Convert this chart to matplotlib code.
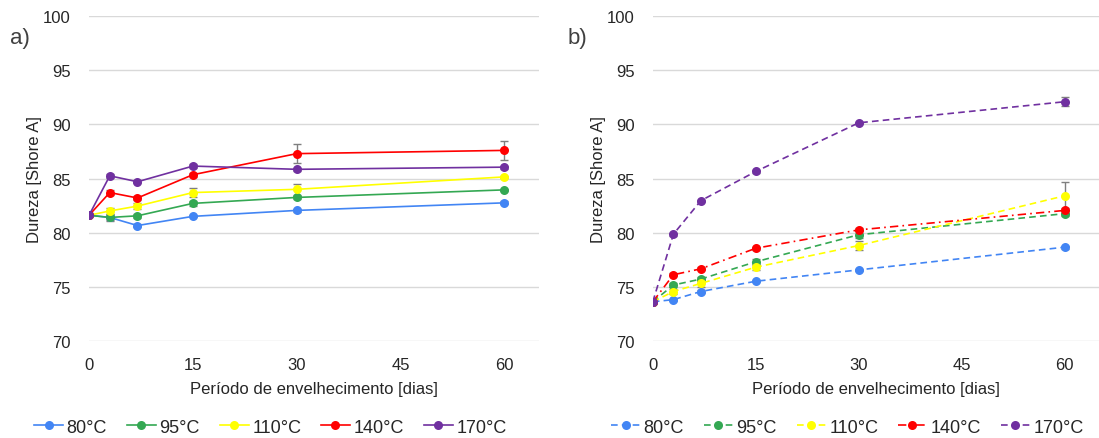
import matplotlib
matplotlib.use("Agg")
import matplotlib.pyplot as plt

plt.rcParams["font.family"] = ["Liberation Sans", "DejaVu Sans"]

dias = [0, 3, 7, 15, 30, 60]
temps = ["80°C", "95°C", "110°C", "140°C", "170°C"]
cores = ["#4285F4", "#34A853", "#FFFF00", "#FF0000", "#7030A0"]

# a) dureza
a_80 = [81.6, 81.4, 80.65, 81.5, 82.05, 82.75]
a_95 = [81.6, 81.4, 81.55, 82.7, 83.25, 83.95]
a_110 = [81.6, 82.0, 82.45, 83.7, 84.0, 85.15]
a_140 = [81.6, 83.7, 83.2, 85.35, 87.3, 87.6]
a_170 = [81.6, 85.25, 84.7, 86.15, 85.85, 86.05]
a_err_80 = [0.1, 0.2, 0.15, 0.1, 0.15, 0.15]
a_err_95 = [0.1, 0.3, 0.2, 0.2, 0.15, 0.1]
a_err_110 = [0.1, 0.3, 0.3, 0.4, 0.5, 0.1]
a_err_140 = [0.1, 0.2, 0.2, 0.2, 0.85, 0.85]
a_err_170 = [0.1, 0.2, 0.15, 0.15, 0.15, 0.15]

# b) dureza
b_80 = [73.6, 73.8, 74.55, 75.5, 76.55, 78.65]
b_95 = [73.6, 75.15, 75.7, 77.3, 79.8, 81.75]
b_110 = [73.6, 74.55, 75.3, 76.8, 78.8, 83.4]
b_140 = [73.6, 76.1, 76.65, 78.55, 80.25, 82.05]
b_170 = [73.6, 79.85, 82.95, 85.65, 90.15, 92.1]
b_err_80 = [0.1, 0.1, 0.1, 0.1, 0.1, 0.15]
b_err_95 = [0.1, 0.2, 0.2, 0.3, 0.3, 0.2]
b_err_110 = [0.1, 0.2, 0.3, 0.3, 0.4, 1.3]
b_err_140 = [0.1, 0.15, 0.15, 0.15, 0.15, 0.2]
b_err_170 = [0.1, 0.15, 0.1, 0.15, 0.1, 0.4]

serie_a = [a_80, a_95, a_110, a_140, a_170]
erro_a = [a_err_80, a_err_95, a_err_110, a_err_140, a_err_170]
serie_b = [b_80, b_95, b_110, b_140, b_170]
erro_b = [b_err_80, b_err_95, b_err_110, b_err_140, b_err_170]
estilo_b = [(0, (4, 2.5)), (0, (4, 2.5)), (0, (4, 2.5)), (0, (5, 2.5, 1, 2.5)), (0, (4, 2.5))]

fig = plt.figure(figsize=(10.99, 4.39), dpi=100)
ax_a = fig.add_axes([0.081, 0.2216, 0.4095, 0.739])
ax_b = fig.add_axes([0.594, 0.2216, 0.406, 0.739])


def desenha(ax, series, erros, estilos, rotulo, x_rot, x_leg):
    handles = []
    for y, e, c, ls, t in zip(series, erros, cores, estilos, temps):
        ax.errorbar(dias, y, yerr=e, fmt="none", ecolor="#7f7f7f",
                    elinewidth=1.0, capsize=3, capthick=1.0, zorder=2)
        h, = ax.plot(dias, y, color=c, linestyle=ls, linewidth=1.2,
                     marker="o", markersize=6.5, markeredgewidth=0, label=t, zorder=3)
        handles.append(h)
    ax.set_xlim(0, 65)
    ax.set_ylim(70, 100)
    ax.set_xticks([0, 15, 30, 45, 60])
    ax.set_yticks(range(70, 101, 5))
    ax.grid(axis="y", color="#d9d9d9", linewidth=1.0)
    ax.set_axisbelow(True)
    for s in ax.spines.values():
        s.set_visible(False)
    ax.tick_params(axis="y", length=0, labelsize=12, colors="#262626", pad=13)
    ax.tick_params(axis="x", length=0, labelsize=12, colors="#262626", pad=12)
    ax.set_xlabel("Período de envelhecimento [dias]", fontsize=12, color="#262626", labelpad=6)
    ax.set_ylabel("Dureza [Shore A]", fontsize=12, color="#262626", labelpad=1)
    fig.text(x_rot, 0.913, rotulo, fontsize=16, color="#404040", va="center")
    fig.legend(handles=handles, loc="center", bbox_to_anchor=(x_leg, 0.025), ncol=5,
               frameon=False, fontsize=13, handlelength=1.6, handletextpad=0.2,
               columnspacing=1.1, labelcolor="#262626")


desenha(ax_a, serie_a, erro_a, ["-"] * 5, "a)", 0.009, 0.246)
desenha(ax_b, serie_b, erro_b, estilo_b, "b)", 0.516, 0.771)

fig.savefig("out.png", dpi=100)
